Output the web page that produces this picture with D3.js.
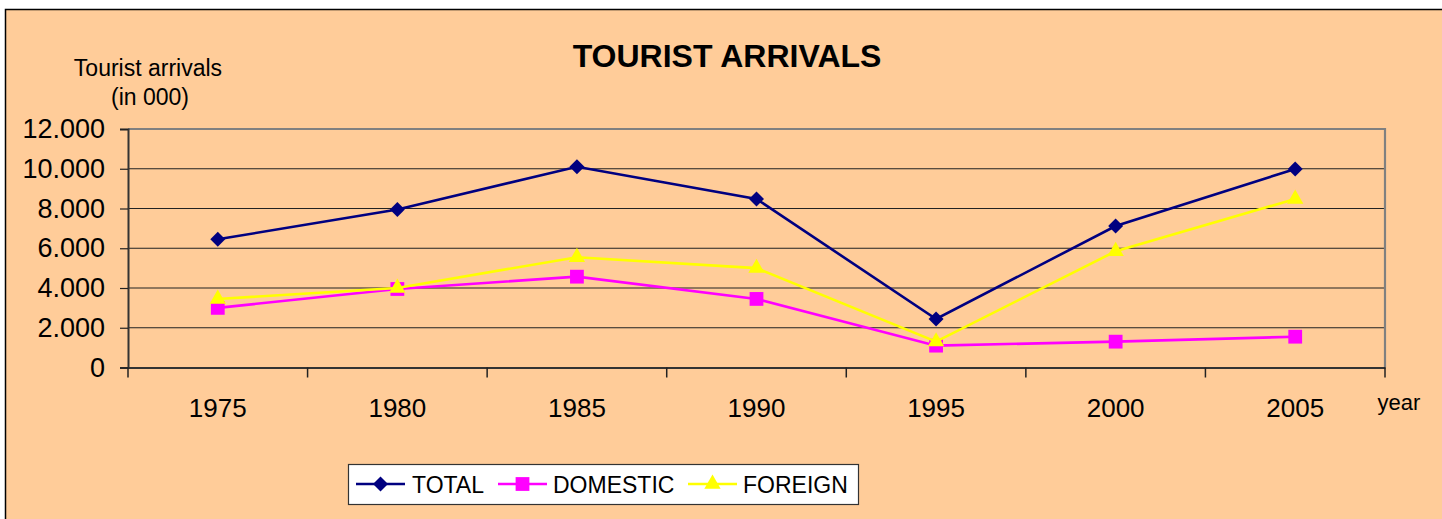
<!DOCTYPE html>
<html><head><meta charset="utf-8">
<script src="https://cdn.jsdelivr.net/npm/d3@7"></script>
<style>
html,body{margin:0;padding:0;background:#fff;}
svg{display:block;font-family:"Liberation Sans",Arial,sans-serif;}
</style></head>
<body><svg id="c" width="1442" height="519"></svg>
<script>
const years = ["1975","1980","1985","1990","1995","2000","2005"];
const total = [6450, 7950, 10100, 8480, 2440, 7120, 9990];
const domestic = [3000, 3950, 4570, 3450, 1100, 1300, 1550];
const foreign = [3450, 4000, 5550, 5000, 1300, 5850, 8480];
const yTicks = [0, 2000, 4000, 6000, 8000, 10000, 12000];
const seriesNames = ["TOTAL","DOMESTIC","FOREIGN"];

const svg = d3.select("#c");
svg.append("rect").attr("x",5.5).attr("y",9.5).attr("width",1500).attr("height",600)
  .attr("fill","#FFCC99").attr("stroke","#000").attr("stroke-width",1.5);

const L=128, R=1385, T=129, B=367.5;
const x = d3.scaleBand().domain(years).range([L,R]).padding(0);
const y = d3.scaleLinear().domain([0,12000]).range([B,T]);
const loc = d3.formatLocale({decimal:",",thousands:".",grouping:[3],currency:["",""]});
const fmt = loc.format(",");

// gridlines
svg.append("g").selectAll("line").data(yTicks.filter(d=>d>0 && d<12000)).join("line")
  .attr("x1",L).attr("x2",R).attr("y1",d=>y(d)).attr("y2",d=>y(d))
  .attr("stroke","#222").attr("stroke-width",1.2);

// plot border top/right
svg.append("path").attr("d",`M${L},${y(12000)}H${R}V${B}`).attr("fill","none")
  .attr("stroke","#808080").attr("stroke-width",2.2);

// y axis
const ya = svg.append("g").attr("transform",`translate(${L},0)`)
  .call(d3.axisLeft(y).tickValues(yTicks).tickFormat(fmt).tickSize(8).tickPadding(15));
ya.select(".domain").attr("stroke","#333").attr("stroke-width",2);
ya.selectAll(".tick line").attr("stroke","#222").attr("stroke-width",1.2);
ya.selectAll("text").attr("font-size",27).attr("fill","#000").attr("font-family","Liberation Sans, Arial, sans-serif");

// x axis
const xa = svg.append("g").attr("transform",`translate(0,${B})`)
  .call(d3.axisBottom(x).tickSize(0).tickPadding(31));
xa.select(".domain").attr("stroke","#333").attr("stroke-width",2);
xa.selectAll("text").attr("font-size",26).attr("fill","#000").attr("font-family","Liberation Sans, Arial, sans-serif");
// boundary ticks
const bounds = years.map(d=>x(d)).concat([x(years[years.length-1])+x.bandwidth()]);
svg.append("g").selectAll("line").data(bounds).join("line")
  .attr("x1",d=>d).attr("x2",d=>d).attr("y1",B).attr("y2",B+10)
  .attr("stroke","#222").attr("stroke-width",1.5);

// titles
svg.append("text").attr("x",727).attr("y",67).attr("text-anchor","middle")
  .attr("font-size",32).attr("font-weight","bold").text("TOURIST ARRIVALS");
svg.append("text").attr("x",148).attr("y",76).attr("text-anchor","middle")
  .attr("font-size",23).text("Tourist arrivals");
svg.append("text").attr("x",150).attr("y",105).attr("text-anchor","middle")
  .attr("font-size",23).text("(in 000)");
svg.append("text").attr("x",1399).attr("y",410).attr("text-anchor","middle")
  .attr("font-size",22).text("year");

// series
const cx = d => x(d) + x.bandwidth()/2;
const series = [
  {name:seriesNames[0], vals:total, color:"#000080", sym:d3.symbolSquare, size:112, rot:45},
  {name:seriesNames[1], vals:domestic, color:"#FF00FF", sym:d3.symbolSquare, size:190, rot:0},
  {name:seriesNames[2], vals:foreign, color:"#FFFF00", sym:d3.symbolTriangle, size:115, rot:0}
];
const line = d3.line().x((d,i)=>cx(years[i])).y(d=>y(d));
series.forEach(s=>{
  const g = svg.append("g");
  g.append("path").attr("d",line(s.vals)).attr("fill","none")
    .attr("stroke",s.color).attr("stroke-width",2.6);
  g.selectAll("path.m").data(s.vals).join("path").attr("class","m")
    .attr("transform",(d,i)=>`translate(${cx(years[i])},${y(d)}) rotate(${s.rot})`)
    .attr("d",d3.symbol().type(s.sym).size(s.size)).attr("fill",s.color);
});

// legend
const lg = svg.append("g");
lg.append("rect").attr("x",348.5).attr("y",464.5).attr("width",510).attr("height",40)
  .attr("fill","#fff").attr("stroke","#333").attr("stroke-width",1.2);
const legPos = [{x0:356,x1:405,tx:412},{x0:498,x1:547,tx:553},{x0:688,x1:737,tx:743}];
series.forEach((s,i)=>{
  const p = legPos[i];
  lg.append("line").attr("x1",p.x0).attr("x2",p.x1).attr("y1",484).attr("y2",484)
    .attr("stroke",s.color).attr("stroke-width",2.6);
  lg.append("path").attr("transform",`translate(${(p.x0+p.x1)/2},484) rotate(${s.rot})`)
    .attr("d",d3.symbol().type(s.sym).size(s.size)).attr("fill",s.color);
  lg.append("text").attr("x",p.tx).attr("y",493).attr("font-size",23).text(s.name);
});
</script></body></html>
